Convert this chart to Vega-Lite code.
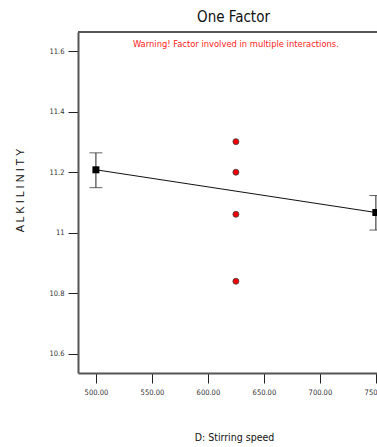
{
  "$schema": "https://vega.github.io/schema/vega-lite/v6.json",
  "autosize": {"type": "none"},
  "padding": {"left": 78, "top": 32, "right": 0, "bottom": 74},
  "width": 299,
  "height": 341,
  "background": "white",
  "title": {"text": "One Factor", "fontSize": 15, "font": "DejaVu Sans Condensed", "fontWeight": "normal", "color": "#111", "anchor": "middle", "dx": 6, "offset": 6},
  "config": {
    "view": {"stroke": null},
    "font": "DejaVu Sans Condensed",
    "axis": {"domainColor": "#555", "domainWidth": 2, "tickColor": "#222", "tickSize": 10, "tickWidth": 1, "labelFontSize": 7.5, "labelColor": "#333", "labelFont": "DejaVu Sans Condensed", "grid": false, "titleFontWeight": "normal"}
  },
  "datasets": {
    "means": [
      {"speed": 500, "alkilinity": 11.208, "low": 11.149, "high": 11.264},
      {"speed": 750, "alkilinity": 11.067, "low": 11.009, "high": 11.123}
    ],
    "design": [
      {"speed": 625, "alkilinity": 11.301},
      {"speed": 625, "alkilinity": 11.2},
      {"speed": 625, "alkilinity": 11.061},
      {"speed": 625, "alkilinity": 10.84}
    ],
    "notes": [
      {"speed": 625, "alkilinity": 11.623, "note": "Warning! Factor involved in multiple interactions."}
    ]
  },
  "layer": [
    {
      "data": {"name": "means"},
      "mark": {"type": "line", "color": "#111", "strokeWidth": 1},
      "encoding": {
        "x": {"field": "speed", "type": "quantitative", "scale": {"domain": [484, 751], "nice": false, "zero": false},
          "axis": {"values": [500, 550, 600, 650, 700, 750], "format": ".2f", "labelPadding": 5, "title": "D: Stirring speed", "titleFontSize": 10.5, "titleColor": "#111", "titleX": 156, "titleY": 64, "titleBaseline": "middle", "titleFont": "DejaVu Sans Condensed"}},
        "y": {"field": "alkilinity", "type": "quantitative", "scale": {"domain": [10.537, 11.663], "nice": false, "zero": false},
          "axis": {"values": [10.6, 10.8, 11, 11.2, 11.4, 11.6], "format": "~g", "labelPadding": 4, "title": "A L K I L I N I T Y", "titleFont": "Liberation Sans", "titleFontSize": 11, "titleColor": "#111", "titleX": -58, "titleY": 158, "titleAngle": -90, "titleBaseline": "middle"}}
      }
    },
    {
      "data": {"name": "means"},
      "mark": {"type": "rule", "color": "#222", "strokeWidth": 1},
      "encoding": {
        "x": {"field": "speed", "type": "quantitative"},
        "y": {"field": "low", "type": "quantitative"},
        "y2": {"field": "high"}
      }
    },
    {
      "data": {"name": "means"},
      "mark": {"type": "tick", "orient": "horizontal", "color": "#222", "size": 13, "thickness": 1},
      "encoding": {
        "x": {"field": "speed", "type": "quantitative"},
        "y": {"field": "low", "type": "quantitative"}
      }
    },
    {
      "data": {"name": "means"},
      "mark": {"type": "tick", "orient": "horizontal", "color": "#222", "size": 13, "thickness": 1},
      "encoding": {
        "x": {"field": "speed", "type": "quantitative"},
        "y": {"field": "high", "type": "quantitative"}
      }
    },
    {
      "data": {"name": "means"},
      "mark": {"type": "square", "color": "#000", "filled": true, "size": 49, "opacity": 1},
      "encoding": {
        "x": {"field": "speed", "type": "quantitative"},
        "y": {"field": "alkilinity", "type": "quantitative"}
      }
    },
    {
      "data": {"name": "design"},
      "mark": {"type": "point", "shape": "circle", "filled": true, "fill": "#f00000", "stroke": "#444", "strokeWidth": 0.8, "size": 36, "opacity": 1},
      "encoding": {
        "x": {"field": "speed", "type": "quantitative"},
        "y": {"field": "alkilinity", "type": "quantitative"}
      }
    },
    {
      "data": {"name": "means"},
      "mark": {"type": "rule", "color": "#555", "strokeWidth": 2},
      "encoding": {"y": {"datum": 11.663}}
    },
    {
      "data": {"name": "notes"},
      "mark": {"type": "text", "color": "#ff2020", "fontSize": 9.3, "font": "DejaVu Sans Condensed", "baseline": "middle", "align": "center"},
      "encoding": {
        "x": {"field": "speed", "type": "quantitative"},
        "y": {"field": "alkilinity", "type": "quantitative"},
        "text": {"field": "note"}
      }
    }
  ]
}
